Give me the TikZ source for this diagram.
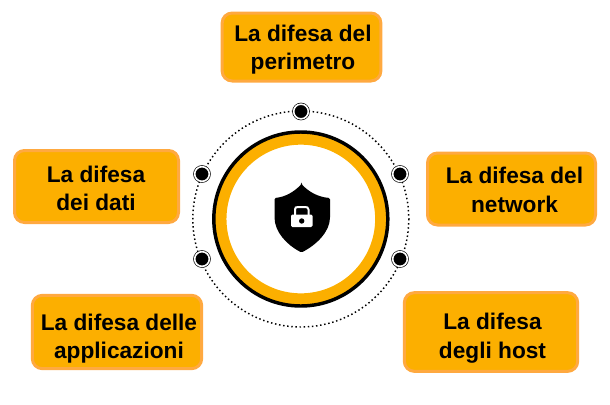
\documentclass[tikz,border=0pt]{standalone}
\usepackage{fontspec}
\setmainfont{Liberation Sans}
\definecolor{boxfill}{HTML}{FCAF00}
\definecolor{boxedge}{HTML}{FFA940}
\tikzset{
  defbox/.style={draw=boxedge, line width=2.25pt, fill=boxfill, rounded corners=7.5pt, inner sep=0pt},
  deflabel/.style={align=center, font=\bfseries\fontsize{17}{21.5}\selectfont, inner sep=0pt},
  portdot/.style={circle, fill=black, draw=black, line width=0.5pt, double=white, double distance=1.2pt,
    minimum size=11pt, inner sep=0pt},
}
\begin{document}
\begin{tikzpicture}[x=0.75pt,y=-0.75pt]
  \useasboundingbox (0,0) rectangle (610,404);
  \coordinate (hub) at (300.8,219);
  % ring and dotted orbit
  \draw[black, line width=1.1pt, dotted] (hub) circle (108);
  \draw[boxfill, line width=10pt] (hub) circle (81);
  \draw[black, line width=2.6pt] (hub) circle (87);
  % ports on the orbit
  \node[portdot] (porttop) at (301,111.5) {};
  \node[portdot] (portright) at (400,174) {};
  \node[portdot] (portleft) at (202,174) {};
  \node[portdot] (portlowleft) at (202,259) {};
  \node[portdot] (portlowright) at (400,259) {};
  % shield
  \fill[black, rounded corners=1pt] (301.5,184) .. controls (309,192) and (318,197) .. (330,198)
    -- (330,216) .. controls (330,232) and (316,245) .. (301.5,252.5)
    .. controls (287,245) and (274.5,232) .. (274.5,216) -- (274.5,198)
    .. controls (285,197) and (294,192) .. (301.5,184) -- cycle;
  \draw[white, line width=1.5pt] (295,215) -- (295,209.5) .. controls (295,207.5) and (296,207) .. (298,207)
    -- (305,207) .. controls (307,207) and (308.5,207.5) .. (308.5,209.5) -- (308.5,215);
  \fill[white, rounded corners=1pt] (291,214.5) rectangle (312.5,227);
  \fill[black] (301.7,221) circle (2.7);
  % boxes
  \node[defbox, minimum width=119pt, minimum height=51pt] (perimetro) at (301.5,47) {};
  \node[defbox, minimum width=126pt, minimum height=54pt] (network) at (511.5,189) {};
  \node[defbox, minimum width=123pt, minimum height=54pt] (dati) at (96.5,186.5) {};
  \node[defbox, minimum width=127pt, minimum height=55pt] (applicazioni) at (117,332) {};
  \node[defbox, minimum width=130pt, minimum height=59pt] (host) at (491,332) {};
  % labels
  \node[deflabel] (perimetrotext) at (303,49.5) {La difesa del\\perimetro};
  \node[deflabel] (networktext) at (514.5,190) {La difesa del\\network};
  \node[deflabel] (datitext) at (96,188.5) {La difesa\\dei dati};
  \node[deflabel] (applicazionitext) at (119,338.5) {La difesa delle\\applicazioni};
  \node[deflabel] (hosttext) at (492.5,338) {La difesa\\degli host};
\end{tikzpicture}
\end{document}
